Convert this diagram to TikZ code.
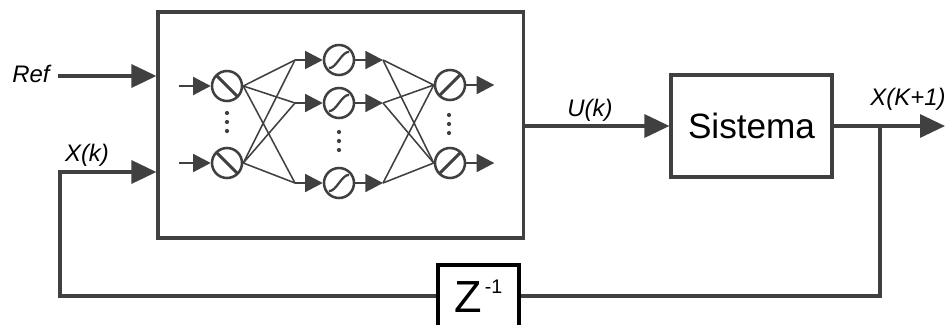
\documentclass[tikz,border=0pt]{standalone}
\usepackage{fontspec}
\setmainfont{Liberation Sans}
\usetikzlibrary{arrows.meta}
\colorlet{ink}{black!75}

\begin{document}
\begin{tikzpicture}[x=0.025cm, y=-0.025cm,
  box/.style={draw=ink, line width=2.2pt, inner sep=0pt},
  conn/.style={draw=ink, line width=2.4pt, -{Triangle[length=0.625cm, width=0.575cm]}},
  wire/.style={draw=ink, line width=2.4pt},
  syn/.style={draw=ink, line width=1.1pt},
  small/.style={draw=ink, line width=1.3pt, -{Triangle[length=0.44cm, width=0.45cm]}},
  neuron/.style={circle, draw=ink, line width=1.8pt, minimum size=0.75cm, inner sep=0pt},
  lbl/.style={inner sep=0pt, font=\fontsize{17}{20}\selectfont\itshape}]
  \useasboundingbox (0,0) rectangle (949,324);
  % blocks
  \node[box, minimum width=9.125cm, minimum height=5.65cm] (nn) at (340.5,125) {};
  \node[box, minimum width=4.025cm, minimum height=2.55cm,
        font=\fontsize{25}{30}\selectfont] (sis) at (751.5,126) {Sistema};
  \node[box, draw=black, line width=2.8pt, minimum width=2.025cm, minimum height=1.55cm,
        font=\fontsize{32}{36}\selectfont] (zinv) at (478.5,296)
        {Z\kern2pt\raisebox{13.6pt}{\fontsize{14}{16}\selectfont -1}};
  % labels
  \node[lbl] (ref) at (31,74) {Ref};
  \node[lbl] (xk) at (87,155) {X(k)};
  \node[lbl] (uk) at (590,110) {U(k)};
  \node[lbl] (xk1) at (908,99) {X(K+1)};
  % neurons
  \foreach \n/\y in {a/86, b/163} \node[neuron] (in\n) at (227,\y) {};
  \foreach \n/\y in {1/60, 2/103, 3/183} \node[neuron] (hd\n) at (339,\y) {};
  \foreach \n/\y in {a/85, b/163} \node[neuron] (out\n) at (450,\y) {};
  \foreach \n in {a,b} {
    \draw[ink, line width=2.2pt] ([shift={(-10,-10)}]in\n.center) -- ([shift={(10,10)}]in\n.center);
    \draw[ink, line width=2.2pt] ([shift={(-10,10)}]out\n.center) -- ([shift={(10,-10)}]out\n.center);
    \draw[small] ([xshift=-0.8cm]in\n.west) -- (in\n.west);
    \draw[small] (out\n.east) -- ([xshift=0.7cm]out\n.east);
  }
  \foreach \n in {1,2,3}
    \draw[ink, line width=1.6pt] ([shift={(-10,8)}]hd\n.center)
      .. controls ([shift={(-3,9)}]hd\n.center) and ([shift={(3,-9)}]hd\n.center)
      .. ([shift={(10,-8)}]hd\n.center);
  % synapses
  \foreach \n/\y in {1/60, 2/103, 3/183} {
    \coordinate (j\n) at (295,\y);
    \coordinate (k\n) at (383,\y);
    \foreach \i in {a,b} {
      \draw[syn] (in\i.east) -- (j\n);
      \draw[syn] (k\n) -- (out\i.west);
    }
    \draw[small] (j\n) -- (hd\n.west);
    \draw[small] (hd\n.east) -- (k\n);
  }
  % dots
  \foreach \y in {113,122,131} \fill[ink] (227,\y) circle (1.5pt);
  \foreach \y in {132,141,150} \fill[ink] (339,\y) circle (1.5pt);
  \foreach \y in {115,124,133} \fill[ink] (449,\y) circle (1.5pt);
  % signals
  \coordinate (refst) at (58,76);
  \coordinate (fb) at (60,172);
  \coordinate (tap) at (880,126);
  \coordinate (xout) at (945,126);
  \draw[conn] (refst) -- (refst -| nn.west);
  \draw[conn] (zinv.west) -| (fb) -- (fb -| nn.west);
  \draw[conn] (nn.east |- sis.west) -- (sis.west);
  \draw[conn] (sis.east) -- (xout);
  \draw[wire] (tap) |- (zinv.east);
\end{tikzpicture}
\end{document}
